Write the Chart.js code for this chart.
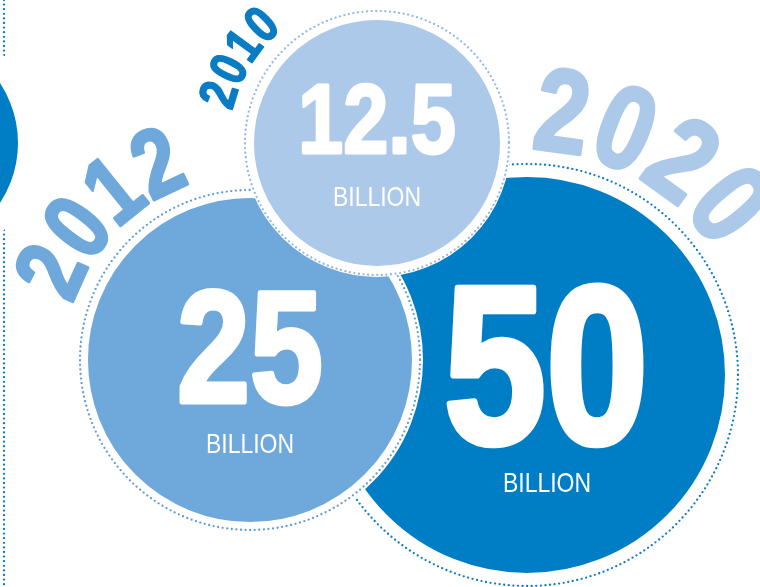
<html>

<head>
    <title>Connected devices</title>
    <script src="https://cdn.jsdelivr.net/npm/chart.js"></script>
    <style>
        body { margin: 0; background: #ffffff; }
        #wrap { width: 760px; height: 587px; }
    </style>
</head>

<body>
    <div id="wrap"><canvas id="bubbleChart" width="760" height="587"></canvas></div>

    <script type="text/javascript" charset="utf-8">

        // data
        var years = ['2010', '2012', '2020'];
        var values = [12.5, 25, 50];
        var unitLabel = 'BILLION';

        // colours
        var discColors = ['#adc9e9', '#6fa8db', '#007ec5'];
        var dotColors = ['#8fb7e3', '#5e9cd7', '#0a7cc4'];
        var yearColors = ['#0a7cc4', '#6fa8db', '#adc9e9'];
        var darkBlue = '#007ec5';

        // layout (data space = pixel space, see scales)
        var discs = [
            { x: 377, y: 143, r: 123, white: 134, ring: 132 },
            { x: 250, y: 360, r: 162, white: 173, ring: 170 },
            { x: 527, y: 375, r: 198, white: 201, ring: 211 }
        ];
        var numberPos = [
            { dx: 0, base: 10, size: 99 },
            { dx: 0, base: 42, size: 160 },
            { dx: 19, base: 68, size: 224 }
        ];
        var unitPos = [
            { dx: 0, base: 63 },
            { dx: 0, base: 93 },
            { dx: 20, base: 117 }
        ];
        var yearArcs = [
            { r: 167, start: -73, step: 9.6, size: 52 },
            { r: 220, start: -66, step: 13.6, size: 96 },
            { r: 268, start: 7.7, step: 14.1, size: 118 }
        ];
        var sideDisc = { x: -91, y: 143, r: 109, white: 129 };
        var sideLineX = 4;

        var fontFamily = '"Liberation Sans", Arial, sans-serif';

        function condensedText(ctx, str, x, y, size, weight, color, rot, thicken) {
            ctx.save();
            ctx.translate(x, y);
            ctx.rotate(rot || 0);
            ctx.scale(0.82, 1);
            ctx.font = weight + ' ' + size + 'px ' + fontFamily;
            ctx.fillStyle = color;
            ctx.textAlign = 'center';
            ctx.textBaseline = 'alphabetic';
            ctx.fillText(str, 0, 0);
            if (thicken) {
                ctx.strokeStyle = color;
                ctx.lineJoin = 'round';
                ctx.lineWidth = thicken;
                ctx.strokeText(str, 0, 0);
            }
            ctx.restore();
        }

        var dottedPlugin = {
            id: 'dotted',
            beforeDatasetDraw: function (chart, args) {
                var ds = chart.data.datasets[args.index];
                if (ds.dotted) {
                    chart.ctx.save();
                    chart.ctx.setLineDash([0, 4.6]);
                    chart.ctx.lineCap = 'round';
                }
            },
            afterDatasetDraw: function (chart, args) {
                var ds = chart.data.datasets[args.index];
                if (ds.dotted) {
                    chart.ctx.restore();
                }
            }
        };

        var labelPlugin = {
            id: 'labels',
            afterDatasetsDraw: function (chart) {
                var ctx = chart.ctx;
                var xs = chart.scales.x;
                var ys = chart.scales.y;

                for (var i = 0; i < values.length; i++) {
                    var d = discs[i];
                    var np = numberPos[i];
                    var up = unitPos[i];
                    condensedText(ctx, String(values[i]), xs.getPixelForValue(d.x + np.dx), ys.getPixelForValue(d.y + np.base),
                        np.size, 'bold', '#ffffff', 0, np.size * 0.03);
                    condensedText(ctx, unitLabel, xs.getPixelForValue(d.x + up.dx), ys.getPixelForValue(d.y + up.base),
                        28, 'normal', '#ffffff', 0);

                    // year written along the circle
                    var arc = yearArcs[i];
                    var chars = years[i].split('');
                    for (var k = 0; k < chars.length; k++) {
                        var a = (arc.start + k * arc.step) * Math.PI / 180;
                        var px = xs.getPixelForValue(d.x + arc.r * Math.sin(a));
                        var py = ys.getPixelForValue(d.y - arc.r * Math.cos(a));
                        ctx.save();
                        ctx.translate(px, py);
                        ctx.rotate(a);
                        condensedText(ctx, chars[k], 0, arc.size * 0.358, arc.size, 'bold', yearColors[i], 0, arc.size * 0.03);
                        ctx.restore();
                    }
                }
            }
        };

        var datasets = [];
        // lower order is drawn on top: 2010 above 2012 above 2020,
        // each dotted ring just above its own disc
        for (var i = 0; i < discs.length; i++) {
            var d = discs[i];
            datasets.push({
                type: 'bubble',
                data: [{ x: d.x, y: d.y, r: d.ring }],
                backgroundColor: 'rgba(0,0,0,0)',
                borderColor: dotColors[i],
                borderWidth: 2.3,
                dotted: true,
                clip: false,
                order: i * 2
            });
            datasets.push({
                type: 'bubble',
                data: [{ x: d.x, y: d.y, r: (d.r + d.white) / 2 }],
                backgroundColor: discColors[i],
                borderColor: '#ffffff',
                borderWidth: d.white - d.r,
                clip: false,
                order: i * 2 + 1
            });
        }
        datasets.push({
            type: 'bubble',
            data: [{ x: sideDisc.x, y: sideDisc.y, r: (sideDisc.r + sideDisc.white) / 2 }],
            backgroundColor: darkBlue,
            borderColor: '#ffffff',
            borderWidth: sideDisc.white - sideDisc.r,
            clip: false,
            order: 20
        });
        datasets.push({
            type: 'line',
            data: [{ x: sideLineX, y: 0 }, { x: sideLineX, y: 587 }],
            borderColor: darkBlue,
            borderWidth: 2.3,
            borderDash: [0, 4.6],
            borderCapStyle: 'round',
            pointRadius: 0,
            clip: false,
            order: 30
        });

        var chart = new Chart(document.getElementById('bubbleChart'), {
            type: 'bubble',
            data: { datasets: datasets },
            options: {
                responsive: false,
                animation: false,
                events: [],
                layout: { padding: 0, autoPadding: false },
                plugins: {
                    legend: { display: false },
                    tooltip: { enabled: false }
                },
                scales: {
                    x: { type: 'linear', min: 0, max: 760, display: false },
                    y: { type: 'linear', min: 0, max: 587, reverse: true, display: false }
                }
            },
            plugins: [dottedPlugin, labelPlugin]
        });

    </script>
</body>

</html>
